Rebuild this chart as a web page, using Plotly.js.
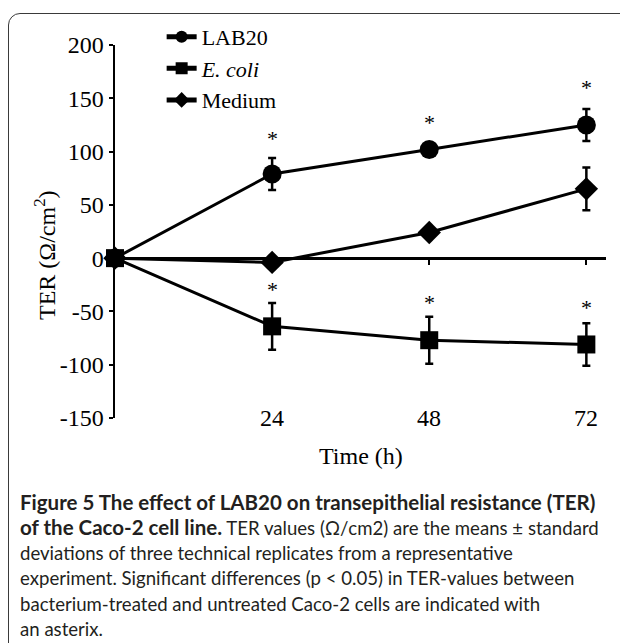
<!DOCTYPE html>
<html>
<head>
<meta charset="utf-8">
<script src="https://cdn.plot.ly/plotly-3.0.1.min.js"></script>
<style>
  html, body { margin: 0; padding: 0; background: #ffffff; overflow: hidden; }
  #frame { position: absolute; left: 8px; top: 13px; width: 700px; height: 700px;
           border: 1.5px solid #3a3a3a; border-radius: 12px; }
  #chart { position: absolute; left: 0; top: 0; width: 620px; height: 643px; }
</style>
</head>
<body>
<div id="frame"></div>
<div id="chart"></div>
<script>
// ---- data ----
var timeHours = [0, 24, 48, 72];
var lab20Mean = [0, 79, 102, 125];
var lab20Sd   = [0, 15, 3, 15];
var ecoliMean = [0, -64, -77, -81];
var ecoliSd   = [0, 22, 22, 20];
var mediumMean = [0, -4, 24, 65];
var mediumSd   = [0, 2, 3, 20];

// significance markers (asterisks) : x position and y value where drawn
var lab20StarX = [24, 48, 72];
var lab20StarY = [112, 127, 160];
var ecoliStarX = [24, 48, 72];
var ecoliStarY = [-29, -42, -46];

var yTickVals = [-150, -100, -50, 0, 50, 100, 150, 200];
var yTickText = ['-150', '-100', '-50', '0', '50', '100', '150', '200'];
var xTickVals = [24, 48, 72];
var xTickText = ['24', '48', '72'];

var BOLD_OPEN = '<span style="font-size:20.5px"><b>';
var BOLD_CLOSE = '</b></span>';
var captionLines = [
  BOLD_OPEN + 'Figure 5 The effect of LAB20 on transepithelial resistance (TER)' + BOLD_CLOSE,
  BOLD_OPEN + 'of the Caco-2 cell line.' + BOLD_CLOSE + ' TER values (\u03A9/cm2) are the means \u00B1 standard',
  'deviations of three technical replicates from a representative',
  'experiment. Significant differences (p &lt; 0.05) in TER-values between',
  'bacterium-treated and untreated Caco-2 cells are indicated with',
  'an asterix.'
];

var SERIF = 'Liberation Serif, Times New Roman, serif';
var SANS = 'Lato, Open Sans, sans-serif';
var FS = 24;

function series(name, y, sd, symbol, size) {
  return {
    type: 'scatter', mode: 'lines+markers', name: name,
    x: timeHours, y: y,
    line: {color: '#000000', width: 3},
    marker: {color: '#000000', symbol: symbol, size: size},
    error_y: {type: 'data', array: sd, visible: true, color: '#000000', thickness: 2.5, width: 4},
    cliponaxis: false
  };
}

var traces = [
  series('LAB20', lab20Mean, lab20Sd, 'circle', 19),
  series('<i>E. coli</i>', ecoliMean, ecoliSd, 'square', 18),
  series('Medium', mediumMean, mediumSd, 'diamond', 18)
];

var annotations = [];
function addStars(xs, ys) {
  for (var i = 0; i < xs.length; i++) {
    annotations.push({x: xs[i], y: ys[i], xref: 'x', yref: 'y', text: '*', showarrow: false,
      font: {family: SERIF, size: 22, color: '#000'}, xanchor: 'center', yanchor: 'middle'});
  }
}
addStars(lab20StarX, lab20StarY);
addStars(ecoliStarX, ecoliStarY);

// x tick labels placed at the bottom level of the y axis
for (var k = 0; k < xTickVals.length; k++) {
  annotations.push({x: xTickVals[k], y: -150, xref: 'x', yref: 'y', text: xTickText[k],
    showarrow: false, font: {family: SERIF, size: FS, color: '#000'}, xanchor: 'center', yanchor: 'middle'});
}
// x axis title
annotations.push({x: 0.5, y: -0.102, xref: 'paper', yref: 'paper', text: 'Time (h)', showarrow: false,
  font: {family: SERIF, size: FS, color: '#000'}, xanchor: 'center', yanchor: 'middle'});

var plotBottom = 418, plotH = 373, plotLeft = 115, plotW = 491;
// y axis title
annotations.push({x: (45 - plotLeft) / plotW, y: (plotBottom - 255) / plotH, xref: 'paper', yref: 'paper',
  text: 'TER (\u03A9/cm<sup>2</sup>)', textangle: -90, showarrow: false,
  font: {family: SERIF, size: FS, color: '#000'}, xanchor: 'center', yanchor: 'middle'});

// caption
var capTop = 502, capStep = 25.4;
for (var c = 0; c < captionLines.length; c++) {
  annotations.push({x: (18 - plotLeft) / plotW, y: (plotBottom - (capTop + c * capStep)) / plotH,
    xref: 'paper', yref: 'paper', text: captionLines[c], showarrow: false, align: 'left',
    font: {family: SANS, size: 18.6, color: '#231f20'}, xanchor: 'left', yanchor: 'middle'});
}

var layout = {
  width: 620, height: 643,
  margin: {l: 115, r: 14, t: 45, b: 225},
  paper_bgcolor: 'rgba(0,0,0,0)', plot_bgcolor: 'rgba(0,0,0,0)',
  font: {family: SERIF, size: FS, color: '#000'},
  showlegend: true,
  legend: {x: 0.095, y: 1.078, xanchor: 'left', yanchor: 'top', traceorder: 'normal', itemsizing: 'constant',
           bgcolor: 'rgba(0,0,0,0)', font: {family: SERIF, size: 22, color: '#000'}},
  xaxis: {range: [0, 75], anchor: 'free', position: 150 / 350, showline: true, linecolor: '#000',
          linewidth: 2.5, ticks: 'outside', ticklen: 5, tickwidth: 2, tickcolor: '#000',
          tickvals: xTickVals, showticklabels: false, showgrid: false, zeroline: false, fixedrange: true},
  yaxis: {range: [-150, 200], showline: true, linecolor: '#000', linewidth: 2.5, ticks: 'outside',
          ticklen: 4, tickwidth: 2, tickcolor: '#000', tickvals: yTickVals, ticktext: yTickText,
          showgrid: false, zeroline: false, fixedrange: true,
          tickfont: {family: SERIF, size: FS, color: '#000'}},
  annotations: annotations
};

Plotly.newPlot('chart', traces, layout, {staticPlot: true, displayModeBar: false});
</script>
</body>
</html>
